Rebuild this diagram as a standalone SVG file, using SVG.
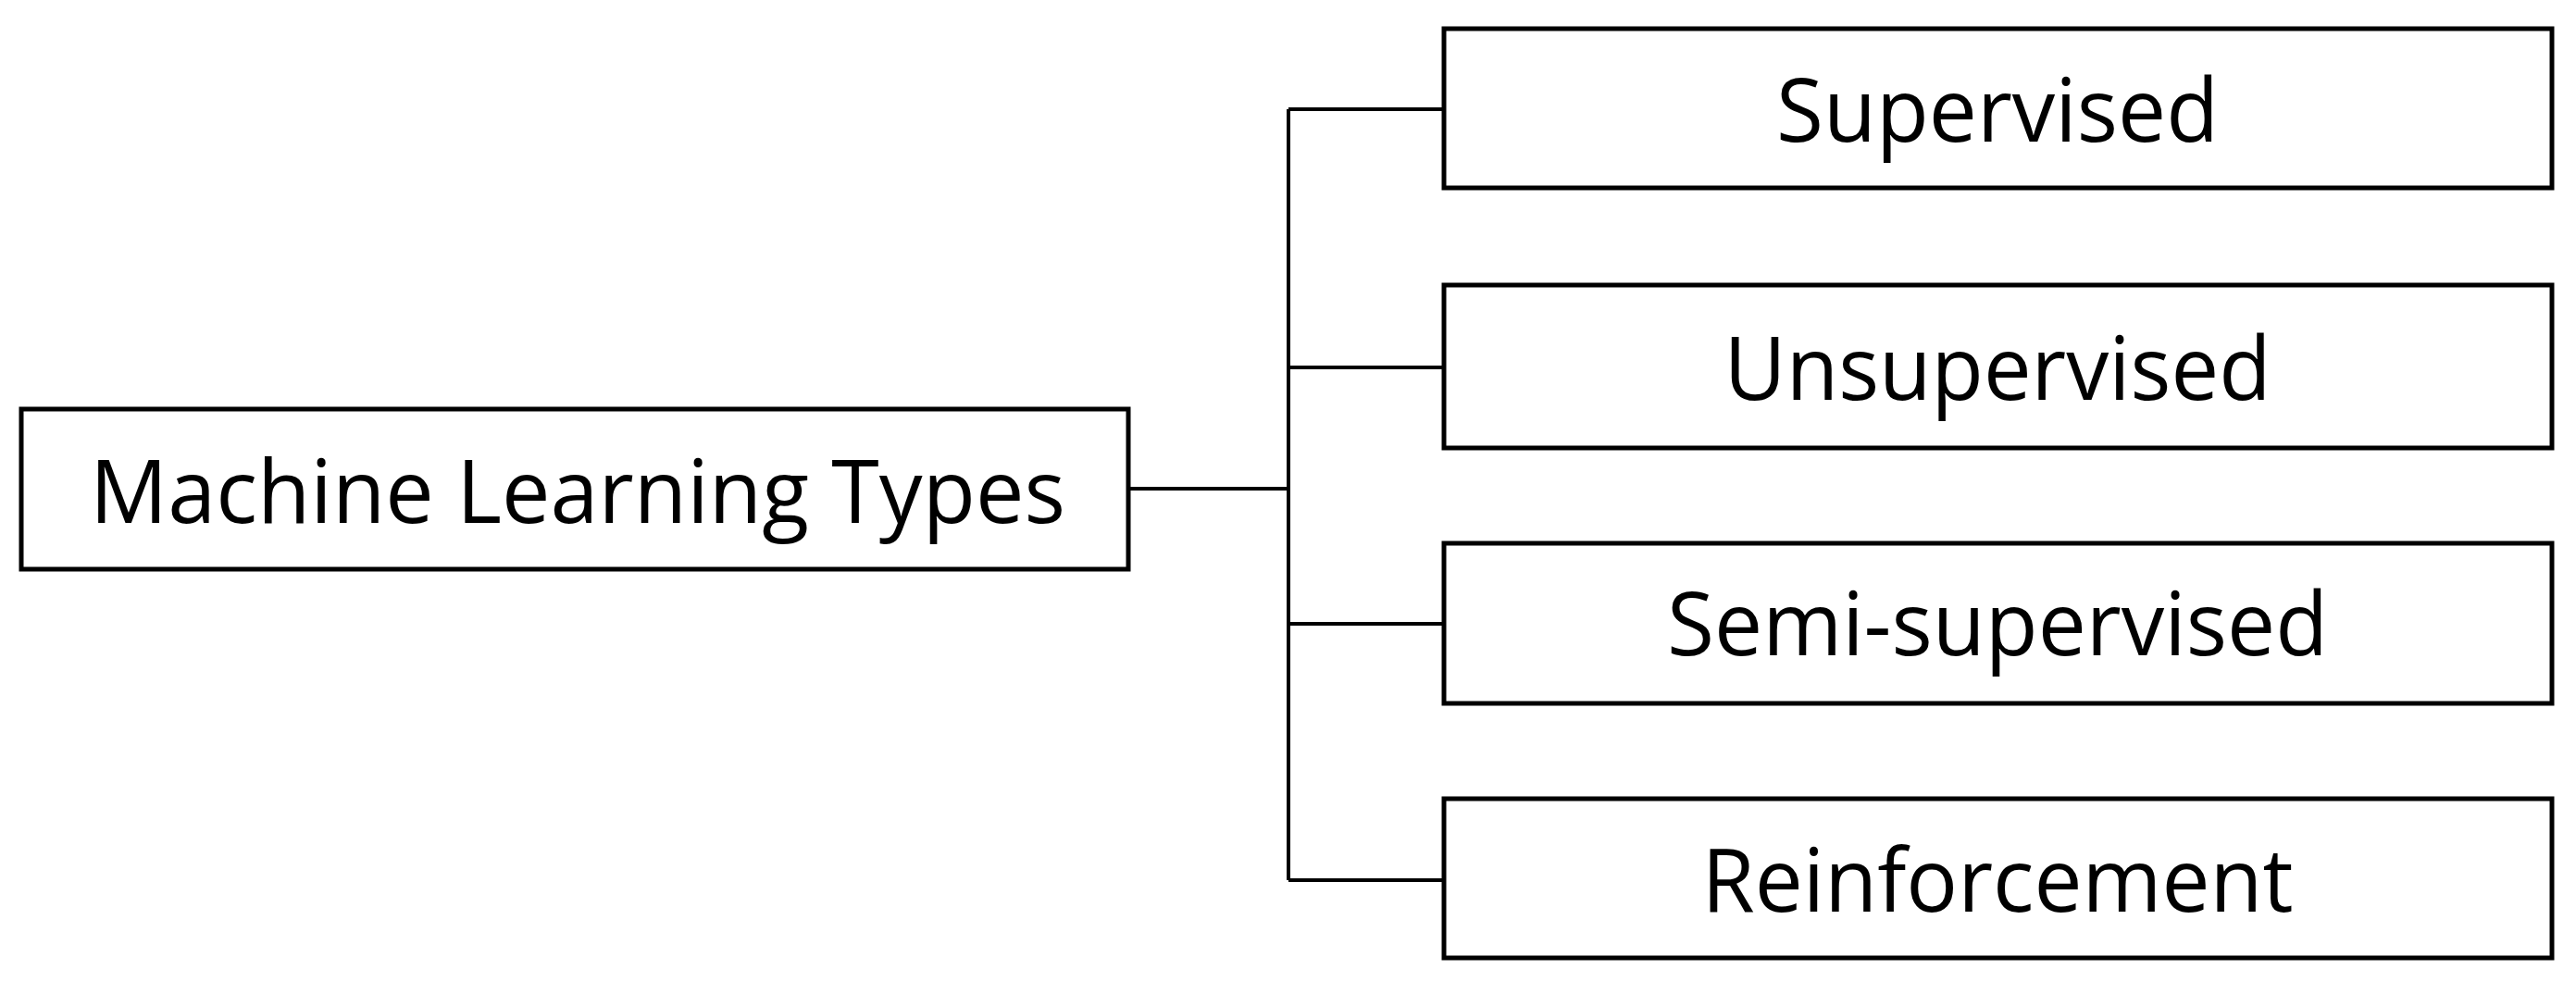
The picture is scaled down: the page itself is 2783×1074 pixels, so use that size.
<svg xmlns="http://www.w3.org/2000/svg" width="2783" height="1074" viewBox="0 0 2783 1074">
<style>
.box{fill:#fff;stroke:#000;stroke-width:5}
.lbl{font-family:"Open Sans","Liberation Sans",sans-serif;font-size:95px;fill:#000;text-anchor:middle}
.conn{fill:none;stroke:#000;stroke-width:4}
</style>
<rect width="2783" height="1074" fill="#fff"/>
<g id="connectors">
<path class="conn" d="M1219 528H1392"/>
<path class="conn" d="M1392 118V951"/>
<path class="conn" d="M1392 118H1560"/>
<path class="conn" d="M1392 397H1560"/>
<path class="conn" d="M1392 674H1560"/>
<path class="conn" d="M1392 951H1560"/>
</g>
<g id="root">
<rect class="box" x="23" y="442" width="1196" height="173"/>
<text class="lbl" x="624" y="565" textLength="1054" lengthAdjust="spacingAndGlyphs">Machine Learning Types</text>
</g>
<g id="supervised">
<rect class="box" x="1560" y="31" width="1197" height="172"/>
<text class="lbl" x="2158" y="153" textLength="478" lengthAdjust="spacingAndGlyphs">Supervised</text>
</g>
<g id="unsupervised">
<rect class="box" x="1560" y="308" width="1197" height="176"/>
<text class="lbl" x="2158" y="432" textLength="591" lengthAdjust="spacingAndGlyphs">Unsupervised</text>
</g>
<g id="semi-supervised">
<rect class="box" x="1560" y="587" width="1197" height="173"/>
<text class="lbl" x="2158" y="708" textLength="714" lengthAdjust="spacingAndGlyphs">Semi-supervised</text>
</g>
<g id="reinforcement">
<rect class="box" x="1560" y="863" width="1197" height="172"/>
<text class="lbl" x="2158" y="985" textLength="639" lengthAdjust="spacingAndGlyphs">Reinforcement</text>
</g>
</svg>
